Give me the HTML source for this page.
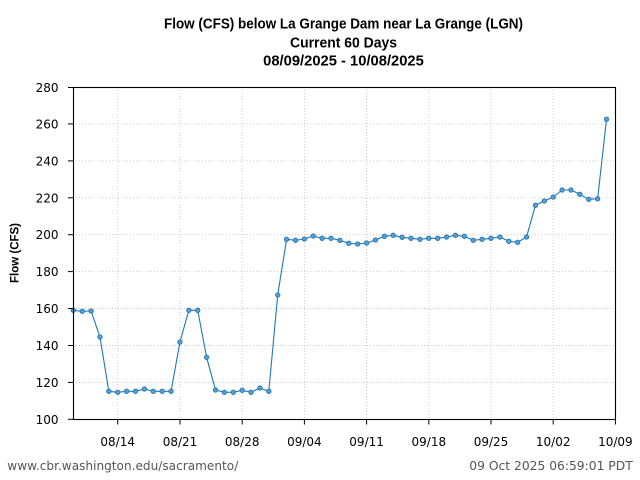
<!DOCTYPE html>
<html>
<head>
<meta charset="utf-8">
<style>
html,body{margin:0;padding:0;background:#fff;}
svg{display:block;}
</style>
</head>
<body>
<svg width="640" height="480" viewBox="0 0 640 480" xmlns="http://www.w3.org/2000/svg">
<rect width="640" height="480" fill="#fff"/>
<defs>
<marker id="m" markerUnits="userSpaceOnUse" markerWidth="8" markerHeight="8" refX="4" refY="4">
<circle cx="4" cy="4" r="2.2" fill="#5a9fd4" stroke="#1f77b4" stroke-width="0.9"/>
</marker>
</defs>
<!-- title -->
<g font-family="Liberation Sans, DejaVu Sans, sans-serif" font-weight="bold" font-size="14.5" fill="#000" text-anchor="middle">
<text x="343.5" y="28.3" textLength="359" lengthAdjust="spacingAndGlyphs">Flow (CFS) below La Grange Dam near La Grange (LGN)</text>
<text x="343.5" y="47.3" textLength="107" lengthAdjust="spacingAndGlyphs">Current 60 Days</text>
<text x="343.5" y="65.6" textLength="160.7" lengthAdjust="spacingAndGlyphs">08/09/2025 - 10/08/2025</text>
</g>
<!-- grid -->
<g stroke="#c8c8c8" stroke-width="0.9" stroke-dasharray="1,2" fill="none">
<line x1="73" y1="382.4" x2="615" y2="382.4"/>
<line x1="73" y1="345.5" x2="615" y2="345.5"/>
<line x1="73" y1="308.5" x2="615" y2="308.5"/>
<line x1="73" y1="271.6" x2="615" y2="271.6"/>
<line x1="73" y1="234.7" x2="615" y2="234.7"/>
<line x1="73" y1="197.8" x2="615" y2="197.8"/>
<line x1="73" y1="160.9" x2="615" y2="160.9"/>
<line x1="73" y1="123.9" x2="615" y2="123.9"/>
<line x1="117.7" y1="87" x2="117.7" y2="419"/>
<line x1="180" y1="87" x2="180" y2="419"/>
<line x1="242.2" y1="87" x2="242.2" y2="419"/>
<line x1="304.4" y1="87" x2="304.4" y2="419"/>
<line x1="366.6" y1="87" x2="366.6" y2="419"/>
<line x1="428.8" y1="87" x2="428.8" y2="419"/>
<line x1="491" y1="87" x2="491" y2="419"/>
<line x1="553.2" y1="87" x2="553.2" y2="419"/>
</g>
<!-- series -->
<polyline fill="none" stroke="#1f77b4" stroke-width="1.1" stroke-linejoin="round"
 marker-start="url(#m)" marker-mid="url(#m)" marker-end="url(#m)"
 points="73.3,310.3 82.19,311.3 91.07,311.0 99.96,337.0 108.85,391.3 117.74,392.3 126.62,391.3 135.51,391.3 144.4,389.0 153.28,391.3 162.17,391.3 171.06,391.3 179.94,342.0 188.83,310.3 197.72,310.3 206.61,357.3 215.49,390.0 224.38,392.3 233.27,392.3 242.15,390.3 251.04,392.3 259.93,388.0 268.81,391.3 277.7,295.0 286.59,239.3 295.48,240.3 304.36,239.0 313.25,236.0 322.14,238.3 331.02,238.3 339.91,240.3 348.8,243.3 357.68,244.0 366.57,243.0 375.46,240.0 384.35,236.3 393.23,235.3 402.12,237.3 411.01,238.3 419.89,239.3 428.78,238.3 437.67,238.3 446.55,237.0 455.44,235.3 464.33,236.3 473.22,240.3 482.1,239.3 490.99,238.3 499.88,237.0 508.76,241.3 517.65,242.3 526.54,237.0 535.42,205.3 544.31,201.0 553.2,197.0 562.09,190.0 570.97,190.0 579.86,194.3 588.75,199.3 597.63,198.7 606.52,119.3"/>
<!-- spines -->
<rect x="73.5" y="87.5" width="542" height="332" fill="none" stroke="#000" stroke-width="1.1"/>
<!-- ticks -->
<g stroke="#000" stroke-width="1">
<line x1="68" y1="419.3" x2="73" y2="419.3"/>
<line x1="68" y1="382.4" x2="73" y2="382.4"/>
<line x1="68" y1="345.5" x2="73" y2="345.5"/>
<line x1="68" y1="308.5" x2="73" y2="308.5"/>
<line x1="68" y1="271.6" x2="73" y2="271.6"/>
<line x1="68" y1="234.7" x2="73" y2="234.7"/>
<line x1="68" y1="197.8" x2="73" y2="197.8"/>
<line x1="68" y1="160.9" x2="73" y2="160.9"/>
<line x1="68" y1="123.9" x2="73" y2="123.9"/>
<line x1="68" y1="87.5" x2="73" y2="87.5"/>
<line x1="117.7" y1="420" x2="117.7" y2="424.5"/>
<line x1="180" y1="420" x2="180" y2="424.5"/>
<line x1="242.2" y1="420" x2="242.2" y2="424.5"/>
<line x1="304.4" y1="420" x2="304.4" y2="424.5"/>
<line x1="366.6" y1="420" x2="366.6" y2="424.5"/>
<line x1="428.8" y1="420" x2="428.8" y2="424.5"/>
<line x1="491" y1="420" x2="491" y2="424.5"/>
<line x1="553.2" y1="420" x2="553.2" y2="424.5"/>
<line x1="615.4" y1="420" x2="615.4" y2="424.5"/>
</g>
<!-- y tick labels -->
<g font-family="DejaVu Sans, sans-serif" font-size="12" fill="#000" text-anchor="end">
<text x="58.5" y="423.8">100</text>
<text x="58.5" y="386.9">120</text>
<text x="58.5" y="350">140</text>
<text x="58.5" y="313">160</text>
<text x="58.5" y="276.1">180</text>
<text x="58.5" y="239.2">200</text>
<text x="58.5" y="202.3">220</text>
<text x="58.5" y="165.4">240</text>
<text x="58.5" y="128.4">260</text>
<text x="58.5" y="92">280</text>
</g>
<!-- x tick labels -->
<g font-family="DejaVu Sans, sans-serif" font-size="12" fill="#000" text-anchor="middle">
<text x="117.7" y="446">08/14</text>
<text x="180" y="446">08/21</text>
<text x="242.2" y="446">08/28</text>
<text x="304.4" y="446">09/04</text>
<text x="366.6" y="446">09/11</text>
<text x="428.8" y="446">09/18</text>
<text x="491" y="446">09/25</text>
<text x="553.2" y="446">10/02</text>
<text x="615.4" y="446">10/09</text>
</g>
<!-- y label -->
<text x="0" y="0" transform="translate(18.5,253) rotate(-90)" font-family="Liberation Sans, DejaVu Sans, sans-serif" font-weight="bold" font-size="11.5" fill="#000" text-anchor="middle" textLength="60" lengthAdjust="spacingAndGlyphs">Flow (CFS)</text>
<!-- footer -->
<g font-family="DejaVu Sans, sans-serif" font-size="12" fill="#555">
<text x="7.3" y="470" textLength="231" lengthAdjust="spacingAndGlyphs">www.cbr.washington.edu/sacramento/</text>
<text x="469.3" y="470" textLength="163.4" lengthAdjust="spacingAndGlyphs">09 Oct 2025 06:59:01 PDT</text>
</g>
</svg>
</body>
</html>
